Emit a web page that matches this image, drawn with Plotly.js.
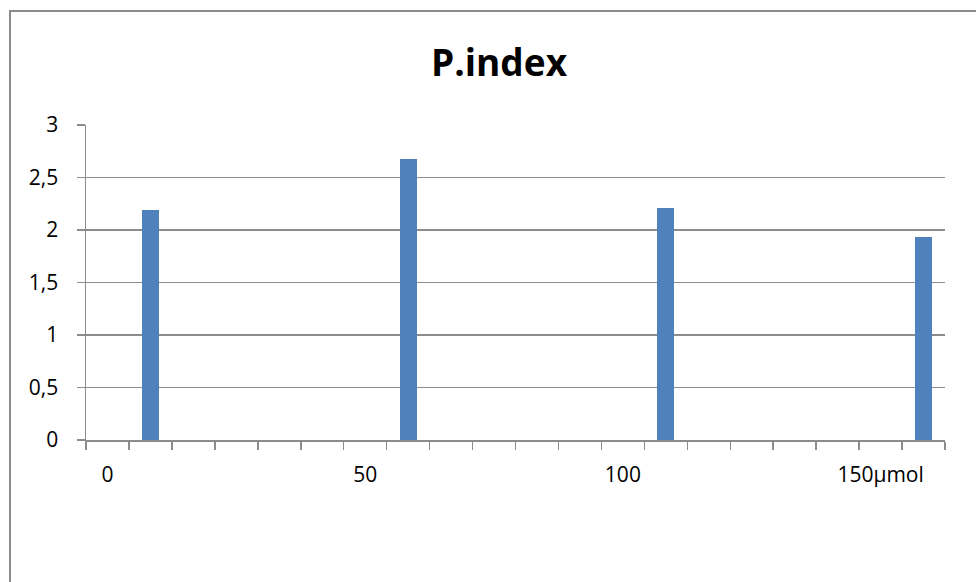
<!DOCTYPE html>
<html>
<head>
<meta charset="utf-8">
<script src="https://cdn.plot.ly/plotly-3.0.1.min.js"></script>
<style>
  html, body { margin: 0; padding: 0; overflow: hidden; background: #fff; }
  #chart { width: 976px; height: 582px; }
  #frame {
    position: absolute; left: 9px; top: 10px; width: 1200px; height: 800px;
    border-left: 2px solid #8c8c8c; border-top: 2px solid #8c8c8c;
    pointer-events: none;
  }
</style>
</head>
<body>
<div id="chart"></div>
<div id="frame"></div>
<script>
// Category slots along the concentration axis
const slotCount = 20;
const tickSlots = [0, 6, 12, 18];
const tickLabels = ["0", "50", "100", "150µmol"];

// P.index values and the slots they sit in
const barSlots = [1, 7, 13, 19];
const pIndex = [2.19, 2.68, 2.21, 1.93];

const gray = "#8c8c8c";
const font = "Open Sans, Noto Sans, sans-serif";

const trace = {
  type: "bar",
  x: barSlots,
  y: pIndex,
  width: 0.4,
  marker: { color: "#4f81bd", line: { width: 0 } },
  hoverinfo: "skip"
};

const layout = {
  width: 976,
  height: 582,
  margin: { l: 86, r: 31, t: 125, b: 142 },
  paper_bgcolor: "#fff",
  plot_bgcolor: "#fff",
  separators: ", ",
  showlegend: false,
  font: { family: font, size: 21, color: "#000" },
  title: {
    text: "<b>P.index</b>",
    font: { family: font, size: 37, color: "#000" },
    x: 499 / 976, xref: "container", xanchor: "center",
    y: 1 - 63 / 582, yref: "container", yanchor: "middle"
  },
  xaxis: {
    type: "linear",
    range: [-0.5, slotCount - 0.5],
    tickmode: "array",
    tickvals: tickSlots,
    ticktext: tickLabels,
    ticks: "",
    ticklabelstandoff: 15,
    showgrid: false,
    zeroline: false,
    showline: true,
    linecolor: gray,
    linewidth: 1.5,
    minor: {
      tick0: -0.5, dtick: 1,
      ticks: "outside", ticklen: 8, tickwidth: 1.5, tickcolor: gray,
      showgrid: false
    },
    fixedrange: true
  },
  yaxis: {
    range: [0, 3],
    dtick: 0.5,
    tick0: 0,
    ticks: "outside",
    ticklen: 8,
    tickwidth: 1.5,
    tickcolor: gray,
    ticklabelstandoff: 14,
    showgrid: true,
    gridcolor: gray,
    gridwidth: 1.5,
    zeroline: false,
    showline: true,
    linecolor: gray,
    linewidth: 1.5,
    fixedrange: true
  },
  bargap: 0
};

Plotly.newPlot("chart", [trace], layout, { displayModeBar: false, staticPlot: true });
</script>
</body>
</html>
